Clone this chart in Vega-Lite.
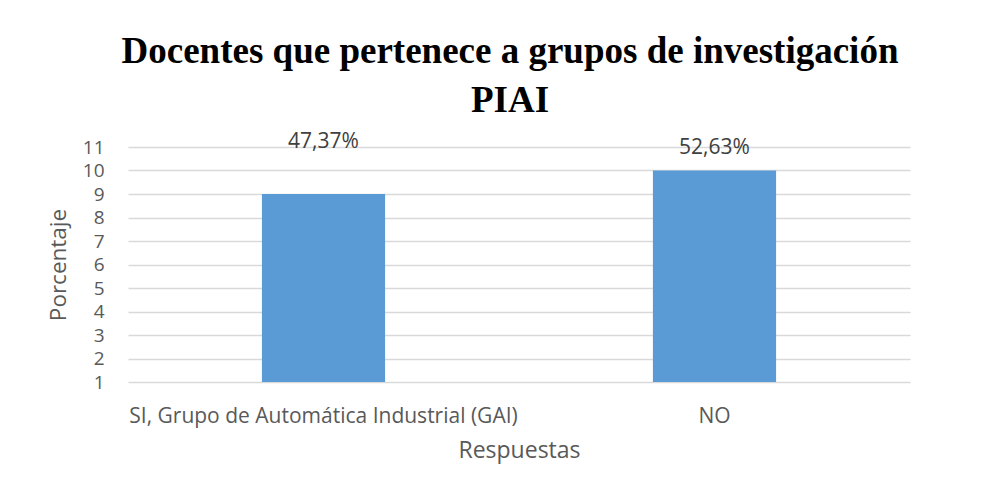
{
  "$schema": "https://vega.github.io/schema/vega-lite/v6.json",
  "width": 782,
  "height": 235,
  "autosize": {"type": "none"},
  "padding": {"left": 128, "top": 147, "right": 92, "bottom": 114},
  "background": "white",
  "title": {
    "text": ["Docentes que pertenece a grupos de investigación", "PIAI"],
    "font": "Liberation Serif",
    "fontSize": 37,
    "fontWeight": "bold",
    "color": "#000000",
    "lineHeight": 49,
    "anchor": "middle",
    "baseline": "bottom",
    "offset": -26,
    "dx": -9
  },
  "data": {
    "values": [
      {"respuesta": "SI, Grupo de Automática Industrial (GAI)", "valor": 9, "etiqueta": "47,37%"},
      {"respuesta": "NO", "valor": 10, "etiqueta": "52,63%"}
    ]
  },
  "config": {
    "view": {"stroke": null},
    "axis": {"labelFont": "Open Sans", "titleFont": "Open Sans", "labelColor": "#595959", "titleColor": "#595959", "titleFontWeight": "normal"}
  },
  "encoding": {
    "x": {
      "field": "respuesta",
      "type": "nominal",
      "sort": null,
      "scale": {"paddingInner": 0.685, "paddingOuter": 0.3425},
      "axis": {
        "title": "Respuestas",
        "labelAngle": 0,
        "labelFontSize": 21,
        "labelPadding": 23,
        "ticks": false,
        "domain": false,
        "titleFontSize": 23,
        "titlePadding": 13,
        "labelLimit": 0
      }
    },
    "y": {
      "field": "valor",
      "type": "quantitative",
      "scale": {"domain": [1, 11], "nice": false, "zero": false},
      "axis": {
        "title": "Porcentaje",
        "values": [1, 2, 3, 4, 5, 6, 7, 8, 9, 10, 11],
        "labelFontSize": 19,
        "labelPadding": 24,
        "labelOverlap": false,
        "labelFlush": false,
        "ticks": false,
        "domain": false,
        "grid": true,
        "gridColor": "#d9d9d9",
        "gridWidth": 1.4,
        "titleFontSize": 22.5,
        "titlePadding": 12
      }
    }
  },
  "layer": [
    {
      "mark": {"type": "bar", "color": "#5b9bd5"},
      "encoding": {"y2": {"datum": 1}}
    },
    {
      "transform": [{"filter": "datum.valor == 9"}],
      "mark": {"type": "text", "font": "Open Sans", "fontSize": 21, "color": "#404040", "baseline": "middle", "dy": -52},
      "encoding": {"text": {"field": "etiqueta"}}
    },
    {
      "transform": [{"filter": "datum.valor == 10"}],
      "mark": {"type": "text", "font": "Open Sans", "fontSize": 21, "color": "#404040", "baseline": "middle", "dy": -22.5},
      "encoding": {"text": {"field": "etiqueta"}}
    }
  ]
}
